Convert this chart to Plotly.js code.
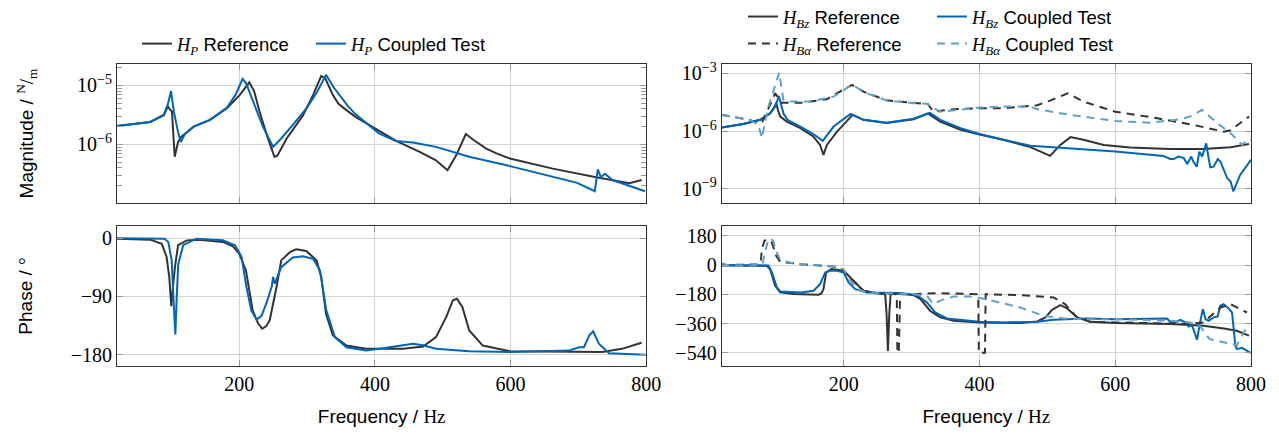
<!DOCTYPE html>
<html><head><meta charset="utf-8">
<script src="https://cdn.plot.ly/plotly-3.0.1.min.js"></script>
<style>html,body{margin:0;padding:0;background:#fff}#chart{width:1279px;height:434px}</style>
</head><body><div id="chart"></div><script>
// ---------- data ----------
// H_P magnitude, reference
const fHPrefMag = [20,69,89,95,98,101,105,110,115,133,157,182,201,210,215,222,230,242,252,256,270,294,309,321,327,338,346,358,372,387,410,432,466,490,507,520,534,545,564,580,599,662,726,775,793];
const mHPref = [2.04e-6,2.4e-6,3.1e-6,4.4e-6,3.9e-6,3.6e-6,6.2e-7,1.1e-6,1.35e-6,2.0e-6,2.6e-6,4.1e-6,6.9e-6,9.5e-6,1.12e-5,8.0e-6,3.6e-6,1.3e-6,6.2e-7,6.4e-7,1.26e-6,3.1e-6,6.9e-6,1.44e-5,1.3e-5,6.9e-6,4.9e-6,3.8e-6,2.9e-6,2.3e-6,1.6e-6,1.14e-6,7.5e-7,5.4e-7,3.66e-7,6.6e-7,1.5e-6,1.2e-6,8.5e-7,7e-7,5.8e-7,3.9e-7,2.8e-7,2.22e-7,2.5e-7];
// H_P magnitude, coupled test
const fHPtestMag = [20,69,89,95,99.6,104,110,114,120,133,157,182,195,205,210,220,235,250,262,280,300,315,328,340,348,360,372,387,406,431,456,490,539,599,666,698,724,728.5,733,739,750,798];
const mHPtest = [2.04e-6,2.4e-6,3.2e-6,4.8e-6,8.0e-6,3.5e-6,1.6e-6,1.1e-6,1.5e-6,2.0e-6,2.6e-6,4.2e-6,7.0e-6,1.28e-5,1.1e-5,5.5e-6,2.0e-6,9.1e-7,1.26e-6,2.2e-6,4.2e-6,7.8e-6,1.5e-5,9.0e-6,6.9e-6,4.5e-6,3.2e-6,2.3e-6,1.54e-6,1.14e-6,1.08e-6,9.1e-7,6.2e-7,4.3e-7,2.8e-7,2.24e-7,1.62e-7,3.8e-7,2.8e-7,3.2e-7,2.5e-7,1.62e-7];
// H_P phase, reference
const fHPrefPh = [20,69,86,93,97,100,102,105.4,110,123,141,176,191,200,210,220,228,234,240,245,255,262,275,284,299,314,321,328,338,358,387,441,471,490,505,515,521,529,539,559,599,686,735,764,793];
const pHPref = [-1,-2.5,-8.7,-29,-60,-105,-80,-45,-11,-3.6,-2.5,-6,-12.8,-24,-50,-112,-132,-140,-136,-127,-76,-34.5,-21.6,-17.5,-20,-34.5,-60,-117,-150,-166,-171,-171,-167.5,-153,-122,-96,-93.7,-106.7,-142.7,-166,-174.7,-176,-176,-171,-161.7];
// H_P phase, coupled test
const fHPtestPh = [20,90,95.6,100.6,103,106,108,110.3,117.6,137,176,194,203.5,210.8,218,225.6,233,240,248,250,252.5,262,279,294,309,319,328.5,341,358,387,422,456,471,490,539,599,686,701,708,716,721.6,730,745,799];
const pHPtest = [-0.5,-1,-6,-34.5,-90,-149,-90,-40,-11,-1,-3.5,-11,-29,-76,-112,-125.7,-120,-101,-75,-60,-70.5,-45,-30,-28,-32,-50,-112,-153,-168.6,-173.7,-168.5,-163,-165.5,-171,-174.7,-176,-173.7,-168.5,-168.5,-150,-144,-163,-177.8,-180];

// H_Bz magnitude, reference
const fBzRefMag = [20,52,77,91.5,97,100.4,103,106.3,116,136,155,165,170,175,190,213,229,263,303,324,342,372,400,435,475,490,504,519,534,553,583,622,681,730,770,797];
const mBzRef = [1.5e-6,2.3e-6,3.8e-6,8.3e-6,1.6e-5,2.9e-5,1.2e-5,5.6e-6,3.1e-6,1.4e-6,5.2e-7,1.9e-7,5.8e-8,1.9e-7,9.3e-7,6.9e-6,3.8e-6,2.6e-6,4.1e-6,8.3e-6,3.1e-6,1.15e-6,6.5e-7,3.5e-7,1.45e-7,8.5e-8,5.1e-8,1.9e-7,4.8e-7,3.5e-7,1.9e-7,1.38e-7,1.15e-7,1.15e-7,1.45e-7,2.1e-7];
// H_Bz magnitude, coupled test
const fBzTestMag = [20,52,77,91.5,98.9,104.3,111,117,136,155,169,185,210,229,263,303,327,342,372,400,435,475,514,600,671,681,686,693,701,706,712,715,720,724,728,731,734,737.5,740,745,751,755,765,770,774,784,800];
const mBzTest = [1.5e-6,2.3e-6,3.8e-6,8.3e-6,1.85e-5,6.6e-5,8.3e-6,3.8e-6,1.7e-6,7e-7,3.1e-7,1.7e-6,7.8e-6,3.8e-6,2.7e-6,4.3e-6,8.8e-6,3.8e-6,1.4e-6,7e-7,3.5e-7,1.7e-7,1.38e-7,8.5e-8,5.1e-8,3.5e-8,3.5e-8,4.7e-8,3.9e-8,1.95e-8,4.7e-8,2.6e-8,1.4e-8,8.5e-8,4.7e-8,9.5e-8,2.3e-7,3.9e-8,1.3e-8,1.4e-8,3.5e-8,2.6e-8,3.5e-9,2.4e-9,7.3e-10,5.2e-9,3.2e-8];
// H_Ba magnitude, reference
const fBaRefMag = [20,62,74,80,89,98.9,104,108.7,137,175,212,229,263,303,324,332,362,400,435,485,504,530,553,600,662,720,760,770,797];
const mBaRef = [6.9e-6,3.8e-6,2.4e-6,3.1e-6,1.5e-5,9.1e-5,5e-5,2.9e-5,2.9e-5,4.5e-5,2.5e-4,1.1e-4,3.9e-5,2.8e-5,2.5e-5,1.0e-5,1.35e-5,1.5e-5,1.5e-5,2.2e-5,3.8e-5,9.1e-5,3.4e-5,1.0e-5,4.6e-6,1.9e-6,9.3e-7,1.1e-6,5.6e-6];
// H_Ba magnitude, coupled test
const fBaTestMag = [20,62,74,79.3,84,89,104.8,111,121,150,185,212,234,263,303,322,342,400,435,475,485,534,600,652,696,710,728,750,770,787,794,800];
const mBaTest = [6.9e-6,3.8e-6,2.1e-6,4.3e-7,3e-6,1.85e-5,1.07e-3,4.1e-5,3.4e-5,3.4e-5,6.1e-5,2.5e-4,9.1e-5,3.9e-5,2.8e-5,2.6e-5,1.0e-5,1.65e-5,1.85e-5,1.85e-5,1.35e-5,6.9e-6,3.3e-6,2.7e-6,4.1e-6,5.6e-6,1.26e-5,2.6e-6,7.7e-7,1.9e-7,3.5e-7,3.5e-7];

// H_Bz phase, reference
const fBzRefPh = [20,86.6,91.5,95,98.9,106.3,126,163,167,170,174,182,200,214,229,249,261,263,265,267,269,283,303,313,327,342,362,400,460,485,497,507,519,529,544,563,600,681,730,760,779,797];
const pBzRef = [0,-4,-25,-70,-127,-168,-178.5,-182.6,-175,-148,-45,-24.6,-34.5,-96,-158,-172.6,-178.5,-300,-530,-300,-180,-174.5,-185,-209,-281,-322,-343,-353,-357,-347,-322,-275,-246,-267,-322,-349,-357,-363,-374,-390,-405,-435];
// H_Bz phase, coupled test
const fBzTestPh = [20,89,94,101.4,106.3,137,155.4,165,172.6,180,190,200,207,216.8,234,283,307.7,322.5,334.7,352,400,435,485,509,558,600,676,681,688,696,703,708,713,716.5,720.4,725,729,733,737.5,745,751,754.7,759.6,767,772,777,779.3,786.7,793.5,800];
const pBzTest = [0,-2,-45,-137,-162,-168,-158,-117,-45,-34.5,-34.5,-46,-107,-148,-168,-172,-185,-230,-292,-328.6,-349,-353,-349,-337,-329,-333,-329,-349,-353,-337,-353,-378,-369,-415,-460,-353,-271,-333,-343,-322,-316,-250,-240,-267,-292,-497,-518,-510,-528,-542];
// H_Ba phase, reference
const fBaRefPh = [20,76,78,79.3,83,86.7,94,100.4,106.3,137,185,199.6,214,229,249,270,278,279,281,283,285,303,332,362,398,399,400,408,409,460,509,526,543.5,563,600,681,710,730,755,769.5,794];
const pBaRef = [0,5,37,100,150,160,140,58,21,6,-8,-34.5,-96,-158,-172.6,-178,-180,-540,-540,-180,-178,-180,-172.6,-174.5,-180,-540,-540,-540,-179,-185,-199,-240,-322,-349,-353,-359,-363,-353,-261,-240,-292];
// H_Ba phase, coupled test
const fBaTestPh = [20,30,62,80,83,88,92,96,100,106,121,137,185,199.6,209.4,219.3,234,263,303,322.5,332,342,362,386,408,460,494,524,560,600,681,710.5,724.6,739,769.5,779.3,789,796.5];
const pBaTest = [12,0,0,5,60,150,165,150,90,35,15,6,-8,-24.6,-96,-148,-168,-174,-180,-189,-240,-219,-193,-193,-209,-261,-312,-328.6,-333,-333,-343,-353,-374,-456,-487,-493,-415,-374];

// tick values / labels
const freqTicks = [200,400,600,800];
const magLeftTicks = [1e-6,1e-5];
const magLeftText = ['10<sup>−6</sup>','10<sup>−5</sup>'];
const magLeftMinor = [2e-7,3e-7,4e-7,5e-7,6e-7,7e-7,8e-7,9e-7,2e-6,3e-6,4e-6,5e-6,6e-6,7e-6,8e-6,9e-6,2e-5];
const magRightTicks = [1e-9,1e-6,1e-3];
const magRightText = ['10<sup>−9</sup>','10<sup>−6</sup>','10<sup>−3</sup>'];
const phLeftTicks = [-180,-90,0];
const phLeftText = ['−180','−90','0'];
const phRightTicks = [-540,-360,-180,0,180];
const phRightText = ['−540','−360','−180','0','180'];

// ---------- styling ----------
const BLACK = '#333333', BLUE = '#0065BD', LBLUE = '#64A0C8';
const SERIF = 'Liberation Serif', SANS = 'Liberation Sans';
const DASH = '8px,6px';
const sv = s => '<span style="font-family:' + SERIF + '">' + s + '</span>';
const Hsym = sub => sv('<i>H</i><sub><i>' + sub + '</i></sub>');

function ln(color, dash) { return {color: color, width: 2, dash: dash || 'solid'}; }

const traces = [
  {x: fHPrefMag, y: mHPref, xaxis: 'x', yaxis: 'y', mode: 'lines', line: ln(BLACK), name: Hsym('P') + ' Reference', legend: 'legend'},
  {x: fHPtestMag, y: mHPtest, xaxis: 'x', yaxis: 'y', mode: 'lines', line: ln(BLUE), name: Hsym('P') + ' Coupled Test', legend: 'legend'},
  {x: fHPrefPh, y: pHPref, xaxis: 'x3', yaxis: 'y3', mode: 'lines', line: ln(BLACK), showlegend: false},
  {x: fHPtestPh, y: pHPtest, xaxis: 'x3', yaxis: 'y3', mode: 'lines', line: ln(BLUE), showlegend: false},

  {x: fBzRefMag, y: mBzRef, xaxis: 'x2', yaxis: 'y2', mode: 'lines', line: ln(BLACK), name: Hsym('Bz') + ' Reference', legend: 'legend2'},
  {x: fBzTestMag, y: mBzTest, xaxis: 'x2', yaxis: 'y2', mode: 'lines', line: ln(BLUE), name: Hsym('Bz') + ' Coupled Test', legend: 'legend2'},
  {x: fBaRefMag, y: mBaRef, xaxis: 'x2', yaxis: 'y2', mode: 'lines', line: ln(BLACK, DASH), name: Hsym('Bα') + ' Reference', legend: 'legend3'},
  {x: fBaTestMag, y: mBaTest, xaxis: 'x2', yaxis: 'y2', mode: 'lines', line: ln(LBLUE, DASH), name: Hsym('Bα') + ' Coupled Test', legend: 'legend3'},

  {x: fBzRefPh, y: pBzRef, xaxis: 'x4', yaxis: 'y4', mode: 'lines', line: ln(BLACK), showlegend: false},
  {x: fBzTestPh, y: pBzTest, xaxis: 'x4', yaxis: 'y4', mode: 'lines', line: ln(BLUE), showlegend: false},
  {x: fBaRefPh, y: pBaRef, xaxis: 'x4', yaxis: 'y4', mode: 'lines', line: ln(BLACK, DASH), showlegend: false},
  {x: fBaTestPh, y: pBaTest, xaxis: 'x4', yaxis: 'y4', mode: 'lines', line: ln(LBLUE, DASH), showlegend: false}
];

const common = {
  showline: true, linecolor: '#333', linewidth: 1, mirror: 'allticks',
  ticks: 'inside', ticklen: 6, tickcolor: '#999', tickwidth: 1,
  showgrid: true, gridcolor: '#d4d4d4', gridwidth: 1, zeroline: false,
  tickfont: {family: SERIF, size: 20, color: '#000'}, automargin: false
};
const TFONT = {family: SANS, size: 19, color: '#000'};
const LFONT = {family: SANS, size: 18.5, color: '#000'};
const xTitle = {text: 'Frequency / ' + sv('Hz'), font: TFONT, standoff: 15};
const LDOM = [0, 0.4668], RDOM = [0.5332, 1], TDOM = [0.5397, 1], BDOM = [0, 0.4636];

const layout = {
  width: 1279, height: 434,
  margin: {l: 117, r: 28, t: 64, b: 68, autoexpand: false},
  paper_bgcolor: '#fff', plot_bgcolor: '#fff',
  font: {family: SANS, size: 17, color: '#000'},
  xaxis: Object.assign({}, common, {domain: LDOM, anchor: 'y', range: [20, 800], tickmode: 'array', tickvals: freqTicks, showticklabels: false}),
  xaxis2: Object.assign({}, common, {domain: RDOM, anchor: 'y2', range: [20, 800], tickmode: 'array', tickvals: freqTicks, showticklabels: false}),
  xaxis3: Object.assign({}, common, {domain: LDOM, anchor: 'y3', range: [20, 800], tickmode: 'array', tickvals: freqTicks, title: xTitle}),
  xaxis4: Object.assign({}, common, {domain: RDOM, anchor: 'y4', range: [20, 800], tickmode: 'array', tickvals: freqTicks, title: xTitle}),
  yaxis: Object.assign({}, common, {domain: TDOM, anchor: 'x', type: 'log', range: [-6.99, -4.64], tickmode: 'array', tickvals: magLeftTicks, ticktext: magLeftText,
    minor: {tickmode: 'array', tickvals: magLeftMinor, ticks: 'inside', ticklen: 5, tickcolor: '#999', showgrid: false},
    title: {text: 'Magnitude / ' + sv('<sup>N</sup>/<sub>m</sub>'), font: TFONT, standoff: 38}}),
  yaxis2: Object.assign({}, common, {domain: TDOM, anchor: 'x2', type: 'log', range: [-9.74, -2.52], tickmode: 'array', tickvals: magRightTicks, ticktext: magRightText}),
  yaxis3: Object.assign({}, common, {domain: BDOM, anchor: 'x3', range: [-197.5, 18.6], tickmode: 'array', tickvals: phLeftTicks, ticktext: phLeftText,
    title: {text: 'Phase / ' + sv('°'), font: TFONT, standoff: 33}}),
  yaxis4: Object.assign({}, common, {domain: BDOM, anchor: 'x4', range: [-622, 241.6], tickmode: 'array', tickvals: phRightTicks, ticktext: phRightText}),
  legend: {orientation: 'h', x: 0.0176, y: 1.066, xanchor: 'left', yanchor: 'middle', bgcolor: 'rgba(0,0,0,0)',
    font: LFONT, entrywidth: 129, entrywidthmode: 'pixels'},
  legend2: {orientation: 'h', x: 0.552, y: 1.1556, xanchor: 'left', yanchor: 'middle', bgcolor: 'rgba(0,0,0,0)',
    font: LFONT, entrywidth: 144, entrywidthmode: 'pixels'},
  legend3: {orientation: 'h', x: 0.552, y: 1.066, xanchor: 'left', yanchor: 'middle', bgcolor: 'rgba(0,0,0,0)',
    font: LFONT, entrywidth: 144, entrywidthmode: 'pixels'},
  showlegend: true
};

Plotly.newPlot('chart', traces, layout, {displayModeBar: false, staticPlot: true});
</script></body></html>
